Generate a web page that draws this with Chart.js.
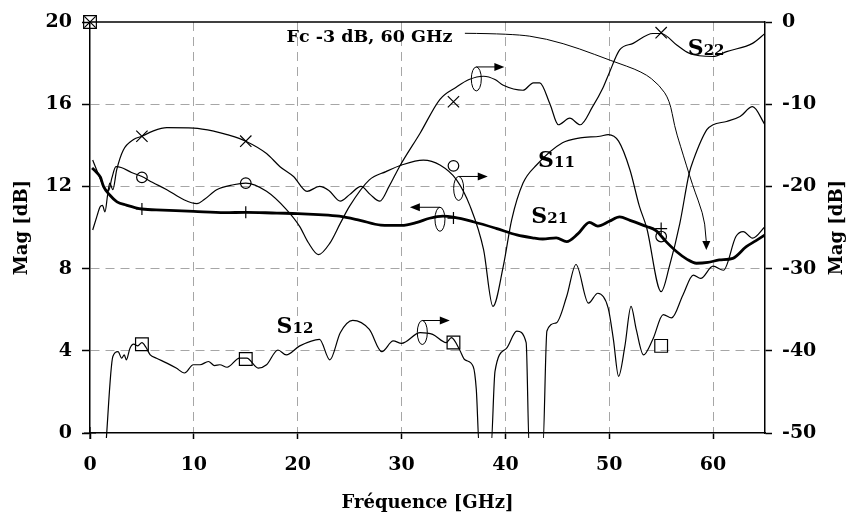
<!DOCTYPE html>
<html>
<head>
<meta charset="utf-8">
<script src="https://cdn.jsdelivr.net/npm/chart.js@4.4.1/dist/chart.umd.min.js"></script>
<style>
  html, body { margin: 0; padding: 0; background: #fff; }
</style>
</head>
<body>
<canvas id="chart" width="848" height="514"></canvas>
<script>
// axis ticks
const freqTicks = [0, 10, 20, 30, 40, 50, 60];
const magTicks = [0, 4, 8, 12, 16, 20];
const magRightTicks = [-50, -40, -30, -20, -10, 0];

// S21 (left axis)
const s21Freq = [0.2, 0.6, 1.0, 1.3, 1.9, 2.6, 3.5, 5, 7, 10, 13, 15, 18, 20, 22, 24, 26, 28, 30, 31.5, 32.7, 34, 35, 36.9, 39.1, 41.1, 42.6, 43.6, 44.9, 45.9, 47, 48.1, 48.9, 50, 51, 52, 53.6, 54.5, 55.5, 56.5, 57.5, 58.4, 59.5, 60.6, 61.9, 63.2, 64.1, 65];
const s21Mag = [12.9, 12.7, 12.45, 12.0, 11.58, 11.25, 11.09, 10.9, 10.85, 10.78, 10.72, 10.74, 10.7, 10.68, 10.63, 10.55, 10.35, 10.12, 10.1, 10.25, 10.45, 10.55, 10.5, 10.28, 9.96, 9.64, 9.5, 9.44, 9.5, 9.31, 9.7, 10.25, 10.07, 10.3, 10.52, 10.35, 10.05, 9.85, 9.3, 8.82, 8.45, 8.26, 8.3, 8.42, 8.5, 9.07, 9.35, 9.64];

// S22 (right axis)
const s22Freq = [0.26, 0.7, 0.96, 1.2, 1.44, 1.7, 1.9, 2.2, 2.57, 3.2, 4.2, 5, 6, 7.4, 10, 12, 13.2, 15, 17, 18.3, 19.6, 20.9, 22.1, 23, 24.1, 25, 26.1, 27, 27.9, 28.8, 29.8, 31.8, 33.7, 35.3, 36.5, 37.9, 39, 39.8, 41.7, 42.7, 43.3, 44.3, 45.1, 46.2, 47.2, 48.4, 49.4, 50, 51, 52.3, 54.2, 55, 56.5, 57.7, 60, 61.3, 63.8, 65];
const s22Mag = [-25.3, -23.5, -22.5, -22.3, -23.1, -21, -19.6, -20.4, -18, -15.6, -14.3, -13.9, -13.3, -12.85, -12.9, -13.3, -13.7, -14.5, -16, -17.6, -18.8, -20.6, -20.0, -20.5, -21.8, -21, -20.0, -21, -21.8, -20, -17.6, -13.5, -9.4, -7.9, -7.0, -6.6, -7.0, -7.7, -8.3, -7.4, -7.4, -10, -12.5, -11.7, -12.5, -10.3, -8.0, -6.2, -3.4, -2.6, -1.4, -1.4, -2.8, -3.8, -4.2, -3.6, -2.6, -1.4];

// S11 (right axis)
const s11Freq = [0.26, 0.8, 1.4, 1.8, 2.1, 2.5, 3.0, 4.0, 5, 6, 7.4, 9, 10.3, 11, 12.2, 13.8, 15, 17, 18.9, 20.2, 21, 22, 23.1, 24.1, 25, 26.9, 28.5, 30, 32.1, 33.7, 35.3, 36.6, 37.9, 38.8, 39.8, 40.6, 41.7, 43, 45.5, 47.2, 49.1, 49.9, 50.9, 52, 52.9, 53.6, 55, 55.8, 56.8, 57.7, 58.1, 59.4, 60, 61.3, 62.6, 63.8, 65];
const s11Mag = [-16.8, -18.5, -20.2, -20.5, -19, -17.6, -17.7, -18.3, -18.8, -19.5, -20.4, -21.6, -22.1, -21.6, -20.4, -19.8, -19.6, -20.6, -22.8, -24.9, -26.8, -28.3, -26.9, -24.5, -22.4, -19.2, -18.2, -17.4, -16.8, -17.4, -19.2, -22.4, -27.7, -34.6, -29.7, -24.1, -19.6, -17.4, -14.7, -14.1, -13.9, -13.7, -14.5, -18.0, -22.4, -25.0, -32.8, -29.7, -24.5, -18.4, -16.8, -13.1, -12.5, -12.1, -11.5, -10.3, -12.5];

// S12 (right axis)
const s12Freq = [1.5, 2.2, 2.7, 3.05, 3.3, 3.5, 3.85, 4.2, 4.6, 5, 5.4, 5.8, 6.4, 7.4, 8.3, 9.1, 9.95, 10.6, 11.4, 12.0, 12.5, 13.2, 14.4, 15.1, 16.2, 17.0, 18.1, 18.9, 20.2, 22.1, 23.1, 24.1, 25.3, 26.9, 28.1, 29.2, 30, 31.8, 33.0, 34.3, 34.8, 35.6, 36.1, 36.9, 37.2, 37.5, 38.6, 39.0, 40.1, 41.1, 42.0, 42.3, 43.6, 44.0, 44.9, 45.9, 46.8, 48.0, 48.9, 49.9, 50.4, 50.9, 51.5, 52.1, 52.6, 53.3, 54.2, 55.2, 56.0, 57.1, 58.1, 58.8, 60, 61, 62.2, 62.9, 63.8, 65];
const s12Mag = [-52, -40.7, -40.1, -40.9, -40.5, -41.1, -39.7, -39.2, -39.4, -39.0, -39.6, -40.5, -40.9, -41.5, -42.1, -42.7, -41.7, -41.7, -41.3, -41.8, -41.7, -42.0, -40.9, -40.9, -42.1, -41.7, -39.9, -40.5, -39.4, -38.6, -41.1, -37.8, -36.3, -37.4, -40.1, -38.8, -39.1, -37.8, -38.0, -39.0, -38.4, -39.9, -41.1, -41.9, -44.7, -52, -52, -42.5, -39.7, -37.6, -39.0, -52, -52, -37.6, -36.6, -33.4, -29.5, -34.2, -33.0, -34.8, -38.6, -43.1, -39.5, -34.6, -37.4, -40.5, -38.6, -35.6, -36.0, -33.2, -30.8, -31.2, -29.7, -30.2, -26.1, -25.5, -26.3, -24.9];

// markers
const markFreq = [0, 5, 15, 35, 55];
const s21Marks = [0, 10.9, 10.74, 10.46, 9.95];
const s22Marks = [0, -13.9, -14.5, -9.7, -1.3];
const s11Marks = [null, -18.9, -19.6, -17.5, -26.1];
const s12Marks = [0, -39.2, -41.0, -39.0, -39.4];

// annotations (left-axis units)
const labelNames = ['S22', 'S11', 'S21', 'S12'];
const labelFreq = [57.56, 43.15, 42.5, 17.97];
const labelMag = [18.38, 12.95, 10.2, 4.86];
const ovalFreq = [37.2, 35.5, 33.7, 32.0];
const ovalMag = [17.23, 11.9, 10.4, 4.89];
const ovalArrowTo = [39.9, 38.3, 30.8, 34.65];
const fcNote = 'Fc -3 dB, 60 GHz';
const fcNoteAt = [18.93, 19.03];
const fcFreq = [36.1, 40.74, 43.96, 47.16, 50.05, 53.25, 54.86, 55.82, 56.3, 56.78, 58.07, 59.03, 59.35, 59.35];
const fcMag = [19.45, 19.43, 19.19, 18.7, 18.14, 17.57, 16.92, 16.19, 14.9, 14.09, 11.98, 10.69, 9.64, 8.91];

const FONT = "'DejaVu Serif', serif";
const pts = (xs, ys) => xs.map((v, i) => ({ x: v, y: ys[i] }));

function curve(data, axis, width) {
  return {
    data, yAxisID: axis, borderColor: '#000', borderWidth: width,
    pointRadius: 0, fill: false, cubicInterpolationMode: 'monotone',
    clip: { left: 0, top: 0, right: 0, bottom: 5 }
  };
}
function marks(data, axis, style, r) {
  return {
    data, yAxisID: axis, showLine: false, pointStyle: style, pointRadius: r,
    pointBorderColor: '#000', pointBackgroundColor: 'rgba(0,0,0,0)',
    pointBorderWidth: 1.2, clip: false
  };
}

const extras = {
  id: 'extras',
  afterDraw(chart) {
    const { ctx, chartArea: a, scales: { x, y } } = chart;
    const px = f => x.getPixelForValue(f);
    const py = v => y.getPixelForValue(v);
    ctx.save();
    ctx.strokeStyle = '#000';
    ctx.fillStyle = '#000';

    // top frame
    ctx.lineWidth = 1.5;
    ctx.beginPath(); ctx.moveTo(a.left, a.top); ctx.lineTo(a.right, a.top); ctx.stroke();

    // series names
    ctx.textAlign = 'left';
    ctx.textBaseline = 'alphabetic';
    labelNames.forEach((name, i) => {
      const lx = px(labelFreq[i]), ly = py(labelMag[i]);
      ctx.font = 'bold 22px ' + FONT;
      ctx.fillText('S', lx, ly);
      const w = ctx.measureText('S').width;
      ctx.font = 'bold 15px ' + FONT;
      ctx.fillText(name.slice(1), lx + w, ly);
    });

    // ovals with arrows
    ctx.lineWidth = 1;
    ovalFreq.forEach((f, i) => {
      const cx = px(f), cy = py(ovalMag[i]);
      ctx.beginPath(); ctx.ellipse(cx, cy, 5, 12, 0, 0, Math.PI * 2); ctx.stroke();
      const ex = px(ovalArrowTo[i]), ey = cy - 12;
      const d = Math.sign(ex - cx);
      ctx.beginPath(); ctx.moveTo(cx, ey); ctx.lineTo(ex - d * 8, ey); ctx.stroke();
      ctx.beginPath(); ctx.moveTo(ex, ey); ctx.lineTo(ex - d * 10, ey - 4); ctx.lineTo(ex - d * 10, ey + 4); ctx.closePath(); ctx.fill();
    });

    // Fc note and its arrow
    ctx.font = 'bold 17.5px ' + FONT;
    ctx.fillText(fcNote, px(fcNoteAt[0]), py(fcNoteAt[1]));
    const p = fcFreq.map((f, i) => ({ x: px(f), y: py(fcMag[i]) }));
    const tip = p[p.length - 1];
    const body = p.slice(0, -1);
    ctx.beginPath();
    ctx.moveTo(body[0].x, body[0].y);
    for (let i = 1; i < body.length - 1; i++) {
      const mx = (body[i].x + body[i + 1].x) / 2, my = (body[i].y + body[i + 1].y) / 2;
      ctx.quadraticCurveTo(body[i].x, body[i].y, mx, my);
    }
    ctx.lineTo(tip.x, tip.y - 8);
    ctx.stroke();
    ctx.beginPath(); ctx.moveTo(tip.x, tip.y); ctx.lineTo(tip.x - 4, tip.y - 9); ctx.lineTo(tip.x + 4, tip.y - 9); ctx.closePath(); ctx.fill();

    // right axis title
    ctx.translate(837, (a.top + a.bottom) / 2);
    ctx.rotate(-Math.PI / 2);
    ctx.textAlign = 'center';
    ctx.textBaseline = 'middle';
    ctx.font = 'bold 18px ' + FONT;
    ctx.fillText('Mag [dB]', 0, 0);
    ctx.restore();
  }
};

const gridColor = edge => c => (c.tick && edge.includes(c.tick.value)) ? 'rgba(0,0,0,0)' : '#a6a6a6';

new Chart(document.getElementById('chart'), {
  type: 'line',
  data: {
    datasets: [
      curve(pts(s22Freq, s22Mag), 'y2', 1.2),
      curve(pts(s11Freq, s11Mag), 'y2', 1.2),
      curve(pts(s12Freq, s12Mag), 'y2', 1.2),
      curve(pts(s21Freq, s21Mag), 'y', 2.8),
      marks(pts(markFreq, s22Marks), 'y2', 'crossRot', 8),
      marks(pts(markFreq, s11Marks), 'y2', 'circle', 5.3),
      marks(pts(markFreq, s12Marks), 'y2', 'rect', 9),
      marks(pts(markFreq, s21Marks), 'y', 'cross', 6)
    ]
  },
  options: {
    responsive: false,
    animation: false,
    layout: { padding: { top: 22, left: 0, right: 0, bottom: 0 } },
    plugins: { legend: { display: false }, tooltip: { enabled: false } },
    scales: {
      x: {
        type: 'linear', min: 0, max: 65,
        afterBuildTicks: s => { s.ticks = freqTicks.map(v => ({ value: v })); },
        afterFit: s => { s.height = 81; },
        grid: { color: gridColor([0]), lineWidth: 1, tickLength: 6, tickColor: '#000', tickWidth: 1.5 },
        border: { color: '#000', width: 1.5, dash: [9, 6] },
        ticks: { color: '#000', padding: 15, font: { family: FONT, size: 19, weight: 'bold' } },
        title: { display: true, text: 'Fréquence [GHz]', color: '#000', padding: 0, font: { family: FONT, size: 18, weight: 'bold' } }
      },
      y: {
        position: 'left', min: 0, max: 20,
        afterBuildTicks: s => { s.ticks = magTicks.map(v => ({ value: v })); },
        afterFit: s => { s.width = 90; },
        grid: { color: gridColor([0, 20]), lineWidth: 1, tickLength: 8, tickColor: '#000', tickWidth: 1.5 },
        border: { color: '#000', width: 1.5, dash: [9, 6] },
        ticks: { color: '#000', padding: 10, font: { family: FONT, size: 19, weight: 'bold' } },
        title: { display: true, text: 'Mag [dB]', color: '#000', padding: { top: 12, bottom: 0 }, font: { family: FONT, size: 18, weight: 'bold' } }
      },
      y2: {
        position: 'right', min: -50, max: 0,
        afterBuildTicks: s => { s.ticks = magRightTicks.map(v => ({ value: v })); },
        afterFit: s => { s.width = 83; },
        grid: { drawOnChartArea: false, tickLength: 7, tickColor: '#000', tickWidth: 1.5 },
        border: { color: '#000', width: 1.5 },
        ticks: { color: '#000', padding: 10, font: { family: FONT, size: 19, weight: 'bold' } }
      }
    }
  },
  plugins: [extras]
});
</script>
</body>
</html>
